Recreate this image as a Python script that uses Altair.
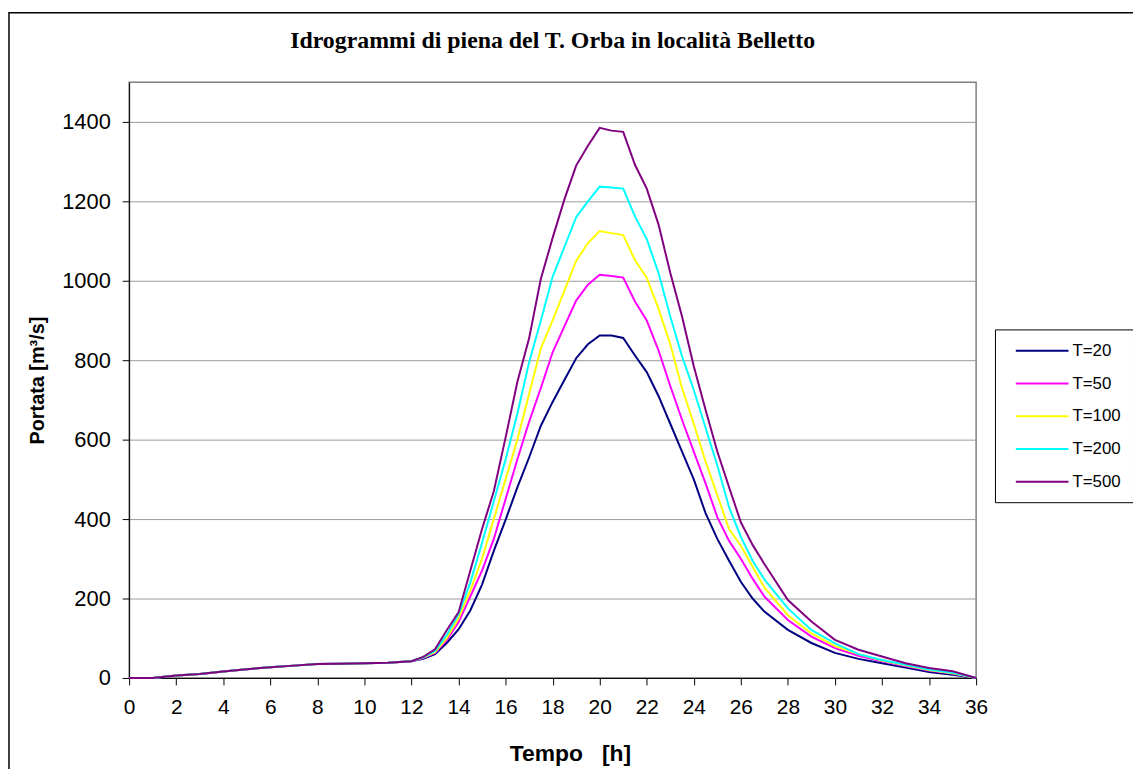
import altair as alt
import pandas as pd

# ---- data ----
tempo = [0, 1, 2, 3, 4, 5, 6, 7, 8, 9, 10, 11, 12,
         12.5, 13, 13.5, 14, 14.5, 15, 15.5, 16, 16.5, 17, 17.5, 18, 18.5, 19, 19.5,
         20, 20.5, 21, 21.5, 22, 22.5, 23, 23.5, 24, 24.5, 25, 25.5, 26, 26.5, 27,
         28, 29, 30, 31, 32, 33, 34, 35, 36]

base_flow = [0, 0, 6, 10, 16, 22, 27, 31, 35, 36, 37, 38, 42]

q_t20 = base_flow + [48, 60, 88, 122, 170, 235, 320, 398, 480, 555, 635, 695, 750, 805, 840,
                     862, 862, 856, 812, 770, 710, 640, 570, 500, 415, 350, 295, 242, 200, 167,
                     121, 88, 63, 48, 37, 26, 15, 8, 0]
q_t50 = base_flow + [50, 63, 95, 140, 205, 270, 350, 450, 550, 645, 730, 820, 885, 950, 990,
                     1015, 1012, 1008, 948, 900, 825, 735, 650, 570, 490, 405, 345, 300, 250, 205,
                     146, 104, 75, 56, 42, 30, 19, 11, 0]
q_t100 = base_flow + [51, 65, 100, 150, 220, 300, 400, 500, 600, 715, 830, 900, 975, 1050, 1095,
                      1125, 1120, 1115, 1052, 1008, 930, 840, 730, 640, 545, 460, 375, 333, 280, 228,
                      158, 112, 80, 60, 44, 32, 20, 12, 0]
q_t200 = base_flow + [52, 68, 108, 160, 240, 340, 445, 550, 665, 795, 900, 1010, 1085, 1160, 1200,
                      1237, 1235, 1232, 1162, 1105, 1020, 910, 810, 725, 630, 535, 430, 355, 295, 248,
                      175, 121, 87, 60, 45, 33, 21, 13, 0]
q_t500 = base_flow + [53, 72, 120, 165, 270, 375, 470, 605, 745, 855, 1005, 1108, 1205, 1290, 1340,
                      1385, 1378, 1375, 1292, 1232, 1142, 1020, 910, 785, 675, 570, 480, 392, 335, 287,
                      196, 142, 96, 71, 54, 37, 25, 17, 0]

series_names = ["T=20", "T=50", "T=100", "T=200", "T=500"]
series_colors = ["#000080", "#FF00FF", "#FFFF00", "#00FFFF", "#800080"]
x_ticks = list(range(0, 37, 2))
y_ticks = [0, 200, 400, 600, 800, 1000, 1200, 1400]

rows = []
for name, vals in zip(series_names, [q_t20, q_t50, q_t100, q_t200, q_t500]):
    for t, q in zip(tempo, vals):
        rows.append({"Tempo": t, "Portata": q, "Serie": name})
df = pd.DataFrame(rows)

color_enc = alt.Color(
    "Serie:N",
    scale=alt.Scale(domain=series_names, range=series_colors),
    legend=alt.Legend(
        title=None,
        orient="none",
        legendX=872,
        legendY=249,
        strokeColor="black",
        fillColor="white",
        padding=12,
        symbolType="M-3.12,0H3.12",
        symbolSize=289,
        symbolStrokeWidth=2,
        symbolOffset=26,
        labelOffset=21,
        rowPadding=15,
        labelFont="Liberation Sans",
        labelFontSize=17,
        labelColor="black",
        labelExpr="datum.label + '\u00a0\u00a0'",
    ),
)

x_enc = alt.X(
    "Tempo:Q",
    scale=alt.Scale(domain=[0, 36], nice=False),
    axis=alt.Axis(
        values=x_ticks,
        format="d",
        grid=False,
        tickSize=7,
        tickColor="black",
        domainColor="black",
        labelFont="Liberation Sans",
        labelFontSize=21,
        labelColor="black",
        labelPadding=12,
        labelFlush=False,
        title="Tempo\u00a0\u00a0\u00a0[h]",
        titleFont="Liberation Sans",
        titleFontWeight="bold",
        titleFontSize=23,
        titleColor="black",
        titleX=444,
        titleY=83,
        titleBaseline="alphabetic",
    ),
)

y_enc = alt.Y(
    "Portata:Q",
    scale=alt.Scale(domain=[0, 1500], nice=False),
    axis=alt.Axis(
        values=y_ticks,
        format="d",
        grid=True,
        gridColor="#9a9a9a",
        gridWidth=1,
        tickSize=7,
        tickColor="black",
        domainColor="black",
        labelFont="Liberation Sans",
        labelFontSize=22,
        labelColor="black",
        labelPadding=12,
        title="Portata [m³/s]",
        titleFont="Liberation Sans",
        titleFontWeight="bold",
        titleFontSize=20,
        titleColor="black",
        titleAngle=270,
        titleX=-86,
        titleY=300,
        titleBaseline="alphabetic",
        titleAlign="center",
    ),
)

border = alt.Chart(pd.DataFrame({"k": [0]})).mark_rect(
    fillOpacity=0, stroke="black", strokeWidth=1.5
).encode(
    x=alt.value(-121), x2=alt.value(1030), y=alt.value(-70), y2=alt.value(710)
)

layers = [border]
for name in series_names:
    layers.append(
        alt.Chart(df)
        .transform_filter(alt.datum.Serie == name)
        .mark_line(strokeWidth=2)
        .encode(x=x_enc, y=y_enc, color=color_enc, order="Tempo:Q")
    )

chart = (
    alt.layer(*layers)
    .properties(
        width=853,
        height=600,
        padding={"left": 122, "top": 72, "right": 158, "bottom": 89},
        autosize=alt.AutoSizeParams(type="none"),
        background="white",
        title=alt.TitleParams(
            "Idrogrammi di piena del T. Orba in località Belletto",
            font="Liberation Serif",
            fontSize=24,
            fontWeight="bold",
            color="black",
            anchor="middle",
            frame="group",
            baseline="alphabetic",
            offset=0,
            dy=60,
        ),
    )
    .configure_view(stroke="#808080", strokeWidth=1.5)
)

chart.save("out.html", embed_options={"renderer": "svg", "actions": False})
